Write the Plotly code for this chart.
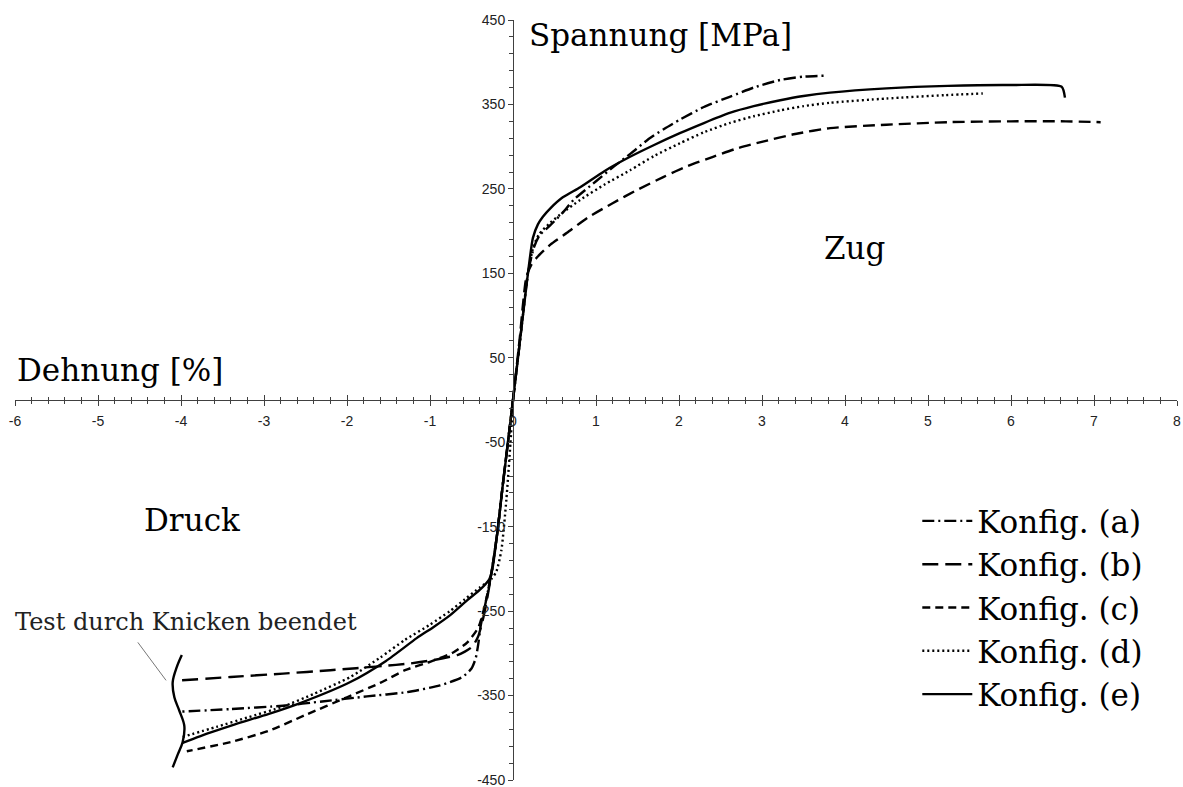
import plotly.graph_objects as go

# ---------------- data (strain in %, stress in MPa) ----------------
# tension branches
a_t_x = [0, 0.09, 0.18, 0.25, 0.32, 0.45, 0.6, 0.73, 1.0, 1.21, 1.42, 1.62, 1.82, 2.01, 2.3, 2.61, 2.9, 3.22, 3.5, 3.75]
a_t_y = [0, 75, 150, 180, 195, 207, 222, 237, 259, 276, 292, 308, 321, 332, 347, 359, 370, 379, 383, 384]
b_t_x = [0, 0.08, 0.16, 0.22, 0.29, 0.45, 0.65, 0.9, 1.2, 1.5, 1.81, 2.1, 2.41, 2.7, 3.01, 3.4, 3.82, 4.5, 5.24, 6.0, 6.66, 7.08]
b_t_y = [0, 72, 145, 160, 169, 184, 198, 216, 233, 249, 264, 277, 288, 298, 306, 315, 322, 326, 329, 330, 330, 329]
d_t_x = [0, 0.09, 0.18, 0.25, 0.32, 0.45, 0.6, 0.81, 1.1, 1.41, 1.7, 2.01, 2.3, 2.61, 2.9, 3.22, 3.5, 3.82, 4.5, 5.2, 5.66]
d_t_y = [0, 75, 150, 183, 197, 210, 222, 237, 255, 272, 289, 304, 317, 328, 336, 343, 348, 352, 357, 361, 363]
e_t_x = [0, 0.09, 0.18, 0.24, 0.30, 0.36, 0.45, 0.6, 0.81, 1.1, 1.41, 1.7, 2.01, 2.3, 2.61, 2.9, 3.22, 3.5, 3.82, 4.5, 5.24, 6.0, 6.61, 6.65]
e_t_y = [0, 75, 150, 192, 208, 217, 227, 240, 252, 271, 288, 302, 316, 328, 340, 348, 355, 360, 364, 369, 372, 373, 371, 358]

# compression branches
a_c_x = [0, -0.12, -0.19, -0.26, -0.33, -0.39, -0.42, -0.45, -0.5, -0.61, -0.88, -1.28, -1.76, -2.3, -2.77, -3.4, -4.0]
a_c_y = [0, -98, -158, -205, -240, -268, -290, -306, -318, -328, -338, -346, -351, -357, -362, -366, -369]
b_c_x = [0, -0.12, -0.19, -0.26, -0.32, -0.37, -0.42, -0.49, -0.58, -0.67, -0.96, -1.24, -1.57, -2.2, -2.77, -3.4, -4.0]
b_c_y = [0, -98, -158, -205, -240, -263, -280, -292, -298, -302, -308, -312, -315, -320, -324, -328, -332]
c_c_x = [0, -0.12, -0.19, -0.26, -0.32, -0.37, -0.42, -0.55, -0.72, -1.0, -1.3, -1.6, -2.0, -2.5, -2.95, -3.4, -3.93]
c_c_y = [0, -98, -158, -205, -235, -255, -270, -287, -299, -310, -320, -335, -352, -373, -392, -405, -416]
d_c_x = [0, -0.03, -0.08, -0.14, -0.2, -0.26, -0.4, -0.58, -0.76, -1.0, -1.3, -1.6, -1.96, -2.4, -2.77, -3.2, -3.57, -3.98]
d_c_y = [0, -50, -118, -178, -203, -212, -222, -236, -250, -266, -284, -305, -328, -348, -363, -376, -387, -399]
e_c_x = [0, -0.06, -0.12, -0.19, -0.25, -0.29, -0.36, -0.45, -0.55, -0.76, -0.96, -1.16, -1.53, -1.96, -2.54, -2.95, -3.35, -3.65, -3.98]
e_c_y = [0, -50, -98, -158, -201, -213, -221, -229, -237, -255, -269, -282, -309, -334, -358, -372, -384, -394, -406]

# "buckling" brace marking the ends of the compression tests
brace_x = [-3.99, -4.05, -4.10, -4.08, -4.02, -3.96, -3.98, -4.04, -4.10]
brace_y = [-302, -316, -334, -352, -368, -386, -405, -420, -435]
leader_x = [-4.52, -4.18]
leader_y = [-287, -332]

labels = ["Konfig. (a)", "Konfig. (b)", "Konfig. (c)", "Konfig. (d)", "Konfig. (e)"]
x_ticks = list(range(-6, 9))
y_ticks = [450, 350, 250, 150, 50, -50, -150, -250, -350, -450]

# ---------------- figure ----------------
DASH_A = "12px,4px,2px,4px"
DASH_B = "16px,7px"
DASH_BT = "12px,6px"
DASH_C = "8px,5px"
DASH_D = "2px,3px"
W = 2.4
SERIF = "DejaVu Serif"

fig = go.Figure()
comp = [(a_c_x, a_c_y, DASH_A), (b_c_x, b_c_y, DASH_B), (c_c_x, c_c_y, DASH_C),
        (d_c_x, d_c_y, DASH_D), (e_c_x, e_c_y, "solid")]
for i, (xs, ys, dash) in enumerate(comp):
    fig.add_trace(go.Scatter(x=xs, y=ys, mode="lines", name=labels[i],
                             legendgroup=labels[i], line=dict(color="black", width=W, dash=dash,
                                                              shape="spline", smoothing=0.6)))
tens = [(a_t_x, a_t_y, DASH_A, 0), (b_t_x, b_t_y, DASH_BT, 1),
        (d_t_x, d_t_y, DASH_D, 3), (e_t_x, e_t_y, "solid", 4)]
for xs, ys, dash, gi in tens:
    fig.add_trace(go.Scatter(x=xs, y=ys, mode="lines", name=labels[gi], legendgroup=labels[gi],
                             showlegend=False, line=dict(color="black", width=W, dash=dash,
                                                         shape="spline", smoothing=0.6)))
fig.add_trace(go.Scatter(x=brace_x, y=brace_y, mode="lines", showlegend=False, xaxis="x2",
                         line=dict(color="black", width=2.4, shape="spline"), hoverinfo="skip"))
fig.add_trace(go.Scatter(x=leader_x, y=leader_y, mode="lines", showlegend=False,
                         line=dict(color="#777777", width=1), hoverinfo="skip"))

axis_col = "#404040"
tick_font = dict(family="Liberation Sans", size=14, color="#222222")
fig.update_layout(
    width=1183, height=787,
    margin=dict(l=15, r=6, t=20, b=7, autoexpand=False),
    paper_bgcolor="white", plot_bgcolor="white",
    showlegend=True,
    legend=dict(x=0.7765, y=0.376, xanchor="left", yanchor="top",
                font=dict(family=SERIF, size=31, color="black"),
                bgcolor="rgba(0,0,0,0)", itemwidth=50, tracegroupgap=0,
                traceorder="normal"),
    xaxis=dict(range=[-6, 8], anchor="free", position=0.5, showgrid=False, zeroline=False,
               showline=True, linecolor=axis_col, linewidth=1, automargin=False,
               tickmode="array", tickvals=x_ticks, ticktext=[str(v) for v in x_ticks],
               ticks="outside", ticklen=5, tickcolor=axis_col, tickfont=tick_font,
               ticklabelstandoff=3, ticklabeloverflow="allow",
               minor=dict(dtick=0.2, tick0=0, ticks="outside", ticklen=3, tickcolor=axis_col)),
    xaxis2=dict(range=[-6, 8], overlaying="x", matches="x", anchor="free", position=0.5,
                showgrid=False, zeroline=False, showline=False, showticklabels=False,
                automargin=False,
                tickmode="array", tickvals=x_ticks, ticks="inside", ticklen=5, tickcolor=axis_col,
                minor=dict(dtick=0.2, tick0=0, ticks="inside", ticklen=3, tickcolor=axis_col)),
    yaxis=dict(range=[-450, 450], anchor="free", position=6 / 14, showgrid=False, zeroline=False,
               showline=True, linecolor=axis_col, linewidth=1, automargin=False,
               tickmode="array", tickvals=y_ticks, ticktext=[str(v) for v in y_ticks],
               ticks="outside", ticklen=5, tickcolor=axis_col, tickfont=tick_font,
               ticklabeloverflow="allow",
               minor=dict(dtick=20, tick0=10, ticks="outside", ticklen=4, tickcolor=axis_col)),
)

big = dict(family=SERIF, size=31, color="black")
fig.add_annotation(x=0.17, y=432, text="Spannung [MPa]", showarrow=False, xanchor="left",
                   yanchor="middle", font=big)
fig.add_annotation(x=-6.0, y=36, text="Dehnung [%]", showarrow=False, xanchor="left",
                   yanchor="middle", font=big)
fig.add_annotation(x=4.12, y=180, text="Zug", showarrow=False, font=big)
fig.add_annotation(x=-3.87, y=-142, text="Druck", showarrow=False, font=big)
fig.add_annotation(xref="paper", x=-0.002, y=-263, text="Test durch Knicken beendet",
                   showarrow=False, xanchor="left", yanchor="middle",
                   font=dict(family=SERIF, size=24, color="#222222"))

fig.write_html("out.html")
